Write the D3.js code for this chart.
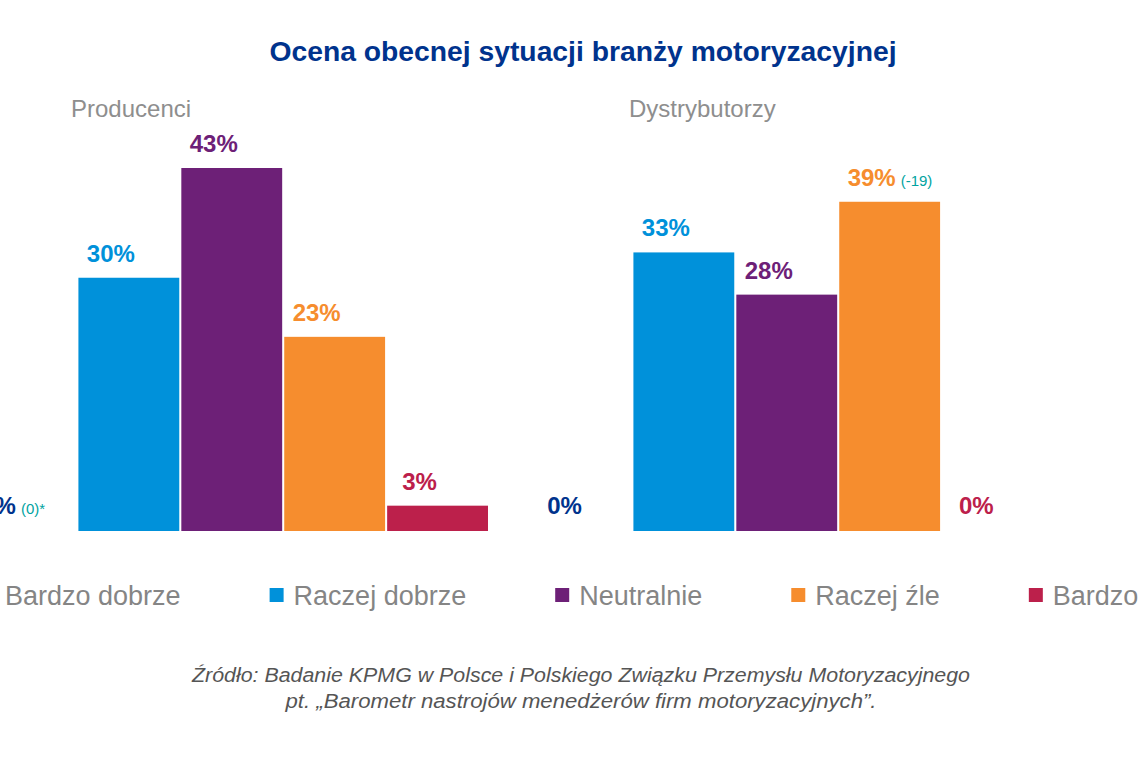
<!DOCTYPE html>
<html>
<head>
<meta charset="utf-8">
<script src="https://cdn.jsdelivr.net/npm/d3@7"></script>
<style>
  html, body { margin: 0; padding: 0; background: #ffffff; }
  svg { display: block; }
  text { font-family: "Liberation Sans", Arial, sans-serif; }
</style>
</head>
<body>
<svg id="chart" width="1140" height="760"></svg>
<script>
const title = "Ocena obecnej sytuacji branży motoryzacyjnej";
const categories = ["Bardzo dobrze", "Raczej dobrze", "Neutralnie", "Raczej źle", "Bardzo źle"];
const colors = ["#00338d", "#0091da", "#6d2077", "#f68d2e", "#bc204b"];
const groups = ["Producenci", "Dystrybutorzy"];
const producenciValues = [0, 30, 43, 23, 3];
const dystrybutorzyValues = [0, 33, 28, 39, 0];
const producenciNotes = ["(0)*", "", "", "", ""];
const dystrybutorzyNotes = ["", "", "", "(-19)", ""];
const sourceLines = [
  "Źródło: Badanie KPMG w Polsce i Polskiego Związku Przemysłu Motoryzacyjnego",
  "pt. „Barometr nastrojów menedżerów firm motoryzacyjnych”."
];

const svg = d3.select("#chart");
const baseline = 531;
const y = d3.scaleLinear().domain([0, 43]).range([baseline, 168]);
const color = d3.scaleOrdinal().domain(categories).range(colors);

svg.append("text")
  .attr("x", 583).attr("y", 61)
  .attr("text-anchor", "middle")
  .attr("font-size", 28).attr("font-weight", "bold")
  .attr("fill", "#00338d")
  .attr("textLength", 627).attr("lengthAdjust", "spacingAndGlyphs")
  .text(title);

const groupData = [
  { name: groups[0], values: producenciValues, notes: producenciNotes, x0: -24.5, labelX: 71 },
  { name: groups[1], values: dystrybutorzyValues, notes: dystrybutorzyNotes, x0: 530.5, labelX: 629 }
];

groupData.forEach(g => {
  const x = d3.scaleBand().domain(categories).range([g.x0, g.x0 + 5 * 102.5]).paddingInner(0.02);
  const G = svg.append("g");
  G.append("text")
    .attr("x", g.labelX).attr("y", 117)
    .attr("font-size", 24).attr("fill", "#8e8e8e")
    .text(g.name);

  const rows = categories.map((c, i) => ({ cat: c, v: g.values[i], note: g.notes[i] }));

  G.selectAll("rect.bar").data(rows.filter(d => d.v > 0)).join("rect")
    .attr("class", "bar")
    .attr("x", d => x(d.cat))
    .attr("width", x.bandwidth())
    .attr("y", d => y(d.v))
    .attr("height", d => baseline - y(d.v))
    .attr("fill", d => color(d.cat));

  rows.forEach(d => {
    const cx = x(d.cat) + x.bandwidth() / 2;
    const t = G.append("text")
      .attr("font-size", 24).attr("font-weight", "bold")
      .attr("fill", color(d.cat));
    if (d.v > 0) {
      t.attr("x", cx - 18).attr("y", y(d.v) - 16).attr("text-anchor", "middle");
    } else {
      t.attr("x", cx + 1).attr("y", 514).attr("text-anchor", "end");
      if (d.note) t.attr("x", cx - 10);
    }
    t.text(d.v + "%");
    if (d.note) {
      const bb = t.node().getBBox();
      G.append("text")
        .attr("x", bb.x + bb.width + 5)
        .attr("y", +t.attr("y"))
        .attr("font-size", 15).attr("fill", "#00a3a1")
        .text(d.note);
    }
  });
});

// Legend
const legend = svg.append("g");
let lx = -19;
categories.forEach((c, i) => {
  legend.append("rect")
    .attr("x", lx).attr("y", 588).attr("width", 14).attr("height", 14)
    .attr("fill", color(c));
  const t = legend.append("text")
    .attr("x", lx + 24).attr("y", 605)
    .attr("font-size", 27).attr("fill", "#858585")
    .text(c);
  lx = lx + 24 + t.node().getComputedTextLength() + 89;
});

const srcWidths = [778, 591];
svg.selectAll("text.src").data(sourceLines).join("text")
  .attr("class", "src")
  .attr("x", 581)
  .attr("y", (d, i) => 682 + i * 26)
  .attr("text-anchor", "middle")
  .attr("font-size", 19.5).attr("font-style", "italic")
  .attr("fill", "#555555")
  .attr("textLength", (d, i) => srcWidths[i]).attr("lengthAdjust", "spacingAndGlyphs")
  .text(d => d);
</script>
</body>
</html>
